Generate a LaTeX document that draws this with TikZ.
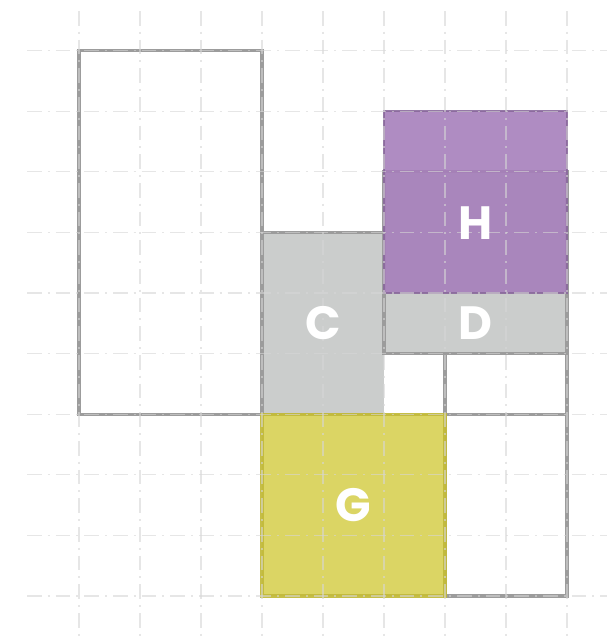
\documentclass[tikz,border=0pt]{standalone}
\usepackage{fontspec}
\setsansfont{Poppins}
\definecolor{gridgray}{HTML}{D6D6D6}
\definecolor{edgegray}{HTML}{9C9C9C}
\definecolor{fillgray}{HTML}{CBCDCC}
\definecolor{boxpurple}{HTML}{A67FBB}
\definecolor{edgepurple}{HTML}{8A6A9C}
\definecolor{boxyellow}{HTML}{D9D35C}
\definecolor{edgeyellow}{HTML}{C2BA3C}

\begin{document}
\begin{tikzpicture}[x=45.75pt, y=45.45pt,
    box/.style={draw=edgegray, line width=2.4pt},
    gridline/.style={draw=gridgray, draw opacity=0.6, line width=1pt,
        dash pattern=on 11pt off 4.5pt on 1.5pt off 4.5pt},
    every node/.style={text=white, font=\sffamily\bfseries\fontsize{35}{35}\selectfont}]
    \useasboundingbox (-1.295,-0.66) rectangle (8.656,9.835);
    % placed boxes
    \draw[box, fill=white] (0,3) rectangle (3,9);
    \fill[fillgray] (3,3) rectangle (5,6);
    \draw[box] (5,4) -- (5,6) -- (3,6) -- (3,3) -- (5,3);
    \draw[box, fill=white] (6,3) rectangle (8,4);
    \draw[box, fill=white] (6,0) rectangle (8,3);
    \draw[box, fill=fillgray] (5,4) rectangle (8,7);
    \draw[draw=edgeyellow, fill=boxyellow, line width=2.4pt, opacity=0.95] (3,0) rectangle (6,3);
    \draw[draw=edgepurple, fill=boxpurple, line width=1.8pt, opacity=0.9] (5,5) rectangle (8,8);
    % grid on top
    \foreach \i in {0,...,8}
        \draw[gridline] (\i,9.653) -- (\i,-0.66);
    \foreach \j in {0,...,9}
        \draw[gridline] (-0.852,\j) -- (8.656,\j);
    % labels
    \node (c) at (4,4.5) {C};
    \node (d) at (6.5,4.5) {D};
    \node (h) at (6.5,6.15) {H};
    \node (g) at (4.5,1.5) {G};
\end{tikzpicture}
\end{document}
